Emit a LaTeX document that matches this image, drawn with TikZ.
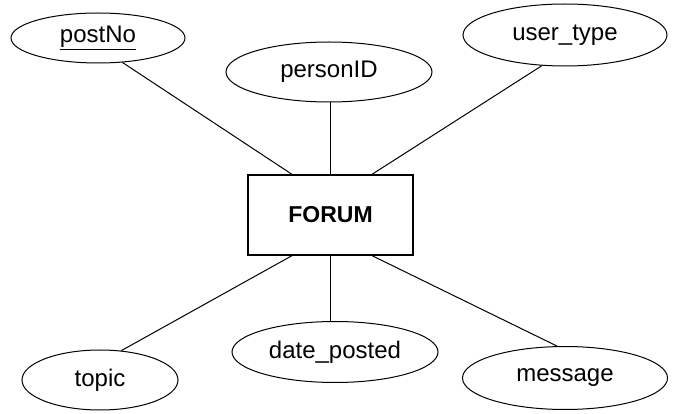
\documentclass[tikz,border=0pt]{standalone}
\usepackage{fontspec}
\setmainfont{Liberation Sans}
\usetikzlibrary{shapes.geometric}

\begin{document}
\begin{tikzpicture}
			[x=1pt,y=-1pt,line width=1pt,
			attr/.style={draw,ellipse,inner sep=0pt,font=\fontsize{24}{28}\selectfont},
			entity/.style={draw,rectangle,line width=1.3pt,minimum width=165pt,minimum height=80pt,font=\bfseries\fontsize{23}{27}\selectfont}]
			\useasboundingbox (0,0) rectangle (673,414);
			% entity
			\node[entity] (forum) at (330.5,215) {FORUM};
			% attributes above
			\node[attr,minimum width=174pt,minimum height=50pt] (postNo) at (98,38) {\underline{postNo}};
			\node[attr,minimum width=206pt,minimum height=60pt] (personID) at (329,72) {personID};
			\node[attr,minimum width=204pt,minimum height=62pt] (userType) at (565,35) {user\_type};
			% attributes below
			\node[attr,minimum width=156pt,minimum height=60pt] (topic) at (100,380) {topic};
			\node[attr,minimum width=206pt,minimum height=61pt] (datePosted) at (335,352) {date\_posted};
			\node[attr,minimum width=205pt,minimum height=63pt] (message) at (565,378) {message};
			% attachment points on the box
			\coordinate (forumTL) at ([xshift=-38.5pt]forum.north);
			\coordinate (forumTR) at ([xshift=41.5pt]forum.north);
			\coordinate (forumBL) at ([xshift=-38.5pt]forum.south);
			\coordinate (forumBR) at ([xshift=41.5pt]forum.south);
			% links
			\draw (forumTL) -- (postNo.315);
			\draw (forum.north) -- (forum.north |- personID.south);
			\draw (forumTR) -- (userType.233);
			\draw (forumBL) -- (topic.54);
			\draw (forum.south) -- (forum.south |- datePosted.north);
			\draw (forumBR) -- (message.104);
		\end{tikzpicture}
\end{document}
